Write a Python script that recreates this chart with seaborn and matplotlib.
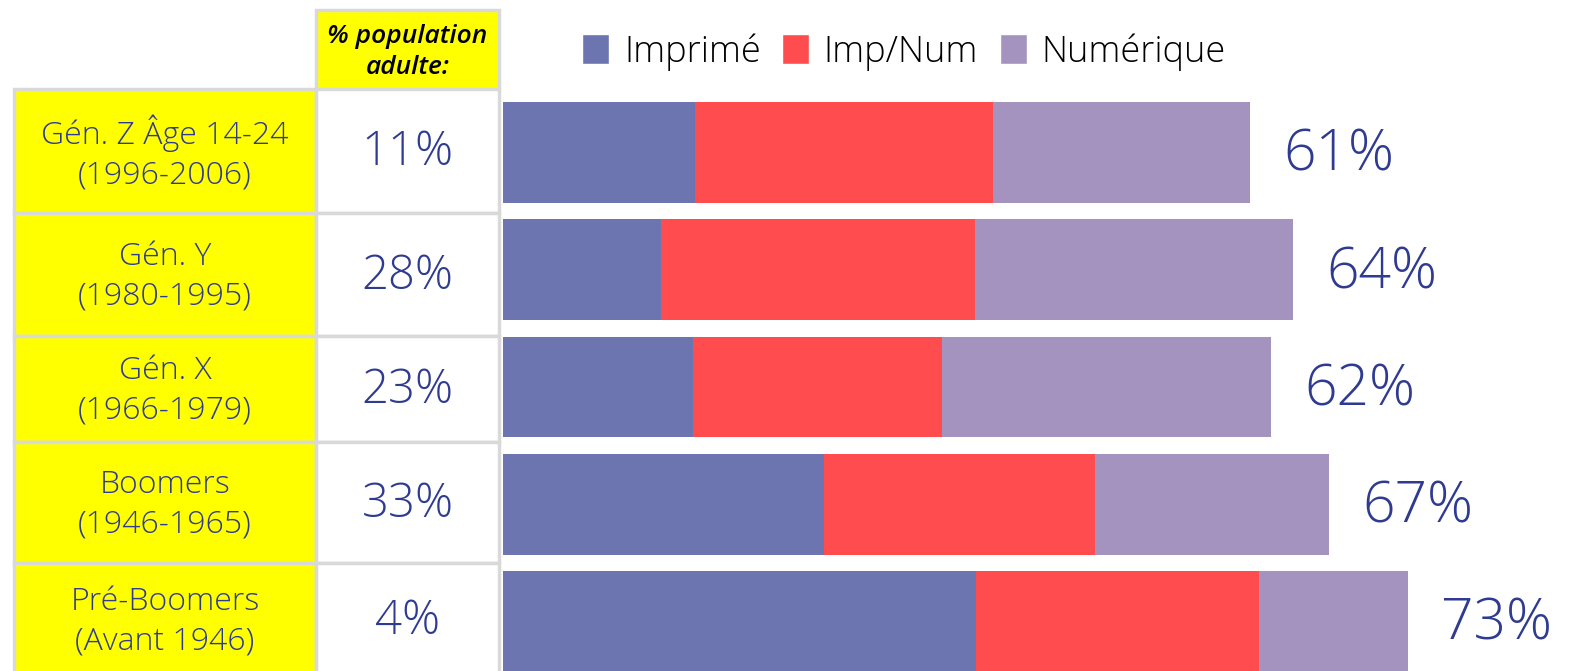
import matplotlib
matplotlib.use("Agg")
import matplotlib.pyplot as plt
from matplotlib.patches import Rectangle, Patch
import seaborn as sns
import pandas as pd
import numpy as np

generations = ["Gén. Z Âge 14-24\n(1996-2006)", "Gén. Y\n(1980-1995)", "Gén. X\n(1966-1979)",
               "Boomers\n(1946-1965)", "Pré-Boomers\n(Avant 1946)"]
pop_share = ["11%", "28%", "23%", "33%", "4%"]
series = ["Imprimé", "Imp/Num", "Numérique"]
imprime = [15.6, 12.8, 15.4, 26.0, 38.4]
imp_num = [24.1, 25.5, 20.2, 22.0, 22.9]
numerique = [20.9, 25.8, 26.7, 19.0, 12.1]
totals = ["61%", "64%", "62%", "67%", "73%"]
header = "% population\nadulte:"

colors = ["#6C75B0", "#FF4D4F", "#A593BF"]
navy = "#2E3B91"
grid = "#D9D9D9"

sns.set_theme(style="white")
plt.rcParams["font.family"] = ["Open Sans", "DejaVu Sans"]

W, H = 1573, 671
fig = plt.figure(figsize=(W / 100, H / 100), dpi=100)

# table drawn in pixel coordinates
tab = fig.add_axes([0, 0, 1, 1])
tab.set_xlim(0, W)
tab.set_ylim(H, 0)
tab.axis("off")

col_x = [14, 316, 499]
row_y = [89, 213, 336, 442, 563, 700]

tab.add_patch(Rectangle((col_x[1], 10), col_x[2] - col_x[1], row_y[0] - 10,
                        facecolor="#FFFF00", edgecolor=grid, lw=2.5))
tab.text((col_x[1] + col_x[2]) / 2, 52, header, ha="center", va="center",
         fontsize=19, fontweight="semibold", fontstyle="italic", color="black", linespacing=1.35)

for i, (g, p) in enumerate(zip(generations, pop_share)):
    y0, y1 = row_y[i], row_y[i + 1]
    tab.add_patch(Rectangle((col_x[0], y0), col_x[1] - col_x[0], y1 - y0,
                            facecolor="#FFFF00", edgecolor=grid, lw=2.5))
    tab.add_patch(Rectangle((col_x[1], y0), col_x[2] - col_x[1], y1 - y0,
                            facecolor="white", edgecolor=grid, lw=2.5))
    yc = (y0 + y1) / 2 if i < 4 else 620
    tab.text((col_x[0] + col_x[1]) / 2, yc + 2, g, ha="center", va="center",
             fontsize=23, fontweight="light", color=navy, linespacing=1.3)
    tab.text((col_x[1] + col_x[2]) / 2, yc + 2, p, ha="center", va="center",
             fontsize=34, fontweight="light", color=navy)

# stacked bars
df = pd.DataFrame({"gen": generations, "Imprimé": imprime, "Imp/Num": imp_num, "Numérique": numerique})
df["c1"] = df["Imprimé"]
df["c2"] = df["c1"] + df["Imp/Num"]
df["c3"] = df["c2"] + df["Numérique"]

px_per = 12.33
x0 = 503
bar_top, bar_bot = 152.5, 621.5
pitch = (bar_bot - bar_top) / 4
ax_top = bar_top - pitch / 2
ax_bot = bar_bot + pitch / 2
ax = fig.add_axes([x0 / W, 1 - ax_bot / H, 1 - x0 / W, (ax_bot - ax_top) / H])
ax.patch.set_alpha(0)

for col, c in zip(["c3", "c2", "c1"], colors[::-1]):
    sns.barplot(data=df, x=col, y="gen", orient="h", color=c, width=0.86,
                saturation=1, linewidth=0, ax=ax)

for i, t in enumerate(totals):
    ax.text(df["c3"][i] + 2.7, i + 0.03, t, ha="left", va="center", fontsize=41,
            fontweight="light", color=navy)

ax.set_xlim(0, (W - x0) / px_per)
ax.set_ylim(4.5, -0.5)
ax.set_xlabel("")
ax.set_ylabel("")
ax.set_xticks([])
ax.set_yticks([])
sns.despine(ax=ax, left=True, bottom=True)

handles = [Patch(facecolor=c, label=s) for c, s in zip(colors, series)]
leg = fig.legend(handles=handles, loc="center", bbox_to_anchor=(904 / W, 1 - 52 / H), ncol=3,
                 frameon=False, handlelength=0.75, handleheight=0.9,
                 handletextpad=0.4, columnspacing=0.6, prop={"size": 26, "weight": "light"})
for t in leg.get_texts():
    t.set_color("black")

fig.savefig("out.png", dpi=100)
